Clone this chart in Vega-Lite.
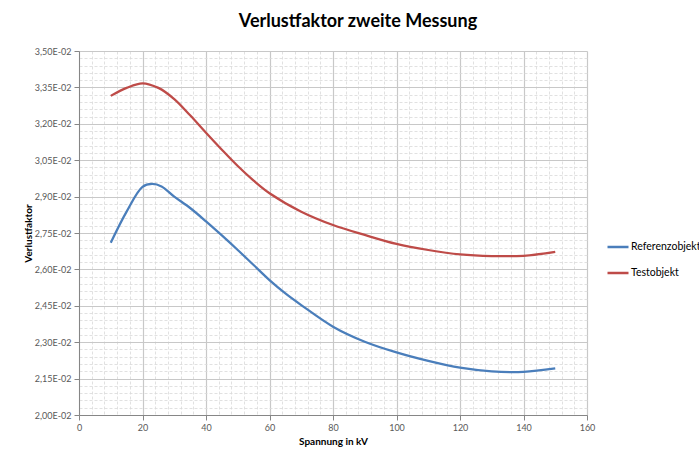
{
  "$schema": "https://vega.github.io/schema/vega-lite/v6.json",
  "width": 508,
  "height": 364,
  "autosize": {"type": "none"},
  "padding": {"left": 79, "top": 51, "right": 112, "bottom": 39},
  "background": "white",
  "title": {
    "text": "Verlustfaktor zweite Messung",
    "font": "Lato",
    "fontSize": 18,
    "fontWeight": "bold",
    "color": "#000000",
    "anchor": "middle",
    "dx": 25,
    "offset": 16
  },
  "data": {
    "values": [
      {"kV": 10, "wert": 0.03315, "serie": "Testobjekt"},
      {"kV": 15, "wert": 0.03348, "serie": "Testobjekt"},
      {"kV": 20, "wert": 0.03367, "serie": "Testobjekt"},
      {"kV": 25, "wert": 0.03348, "serie": "Testobjekt"},
      {"kV": 30, "wert": 0.03302, "serie": "Testobjekt"},
      {"kV": 35, "wert": 0.03235, "serie": "Testobjekt"},
      {"kV": 40, "wert": 0.03163, "serie": "Testobjekt"},
      {"kV": 45, "wert": 0.03093, "serie": "Testobjekt"},
      {"kV": 50, "wert": 0.03026, "serie": "Testobjekt"},
      {"kV": 55, "wert": 0.02966, "serie": "Testobjekt"},
      {"kV": 60, "wert": 0.02914, "serie": "Testobjekt"},
      {"kV": 70, "wert": 0.02838, "serie": "Testobjekt"},
      {"kV": 80, "wert": 0.02783, "serie": "Testobjekt"},
      {"kV": 90, "wert": 0.02742, "serie": "Testobjekt"},
      {"kV": 100, "wert": 0.02705, "serie": "Testobjekt"},
      {"kV": 110, "wert": 0.02680, "serie": "Testobjekt"},
      {"kV": 120, "wert": 0.02662, "serie": "Testobjekt"},
      {"kV": 130, "wert": 0.02655, "serie": "Testobjekt"},
      {"kV": 140, "wert": 0.02656, "serie": "Testobjekt"},
      {"kV": 150, "wert": 0.02672, "serie": "Testobjekt"},
      {"kV": 10, "wert": 0.02710, "serie": "Referenzobjekt"},
      {"kV": 15, "wert": 0.02838, "serie": "Referenzobjekt"},
      {"kV": 20, "wert": 0.02940, "serie": "Referenzobjekt"},
      {"kV": 23, "wert": 0.02952, "serie": "Referenzobjekt"},
      {"kV": 26, "wert": 0.02942, "serie": "Referenzobjekt"},
      {"kV": 30, "wert": 0.02900, "serie": "Referenzobjekt"},
      {"kV": 35, "wert": 0.02853, "serie": "Referenzobjekt"},
      {"kV": 40, "wert": 0.02798, "serie": "Referenzobjekt"},
      {"kV": 45, "wert": 0.02740, "serie": "Referenzobjekt"},
      {"kV": 50, "wert": 0.02680, "serie": "Referenzobjekt"},
      {"kV": 55, "wert": 0.02618, "serie": "Referenzobjekt"},
      {"kV": 60, "wert": 0.02556, "serie": "Referenzobjekt"},
      {"kV": 65, "wert": 0.02501, "serie": "Referenzobjekt"},
      {"kV": 70, "wert": 0.02453, "serie": "Referenzobjekt"},
      {"kV": 80, "wert": 0.02364, "serie": "Referenzobjekt"},
      {"kV": 90, "wert": 0.02302, "serie": "Referenzobjekt"},
      {"kV": 100, "wert": 0.02258, "serie": "Referenzobjekt"},
      {"kV": 110, "wert": 0.02223, "serie": "Referenzobjekt"},
      {"kV": 120, "wert": 0.02195, "serie": "Referenzobjekt"},
      {"kV": 130, "wert": 0.02180, "serie": "Referenzobjekt"},
      {"kV": 140, "wert": 0.02178, "serie": "Referenzobjekt"},
      {"kV": 150, "wert": 0.02192, "serie": "Referenzobjekt"}
    ]
  },
  "mark": {"type": "line", "interpolate": "catmull-rom", "strokeWidth": 2.25},
  "encoding": {
    "x": {
      "field": "kV",
      "type": "quantitative",
      "scale": {"domain": [0, 160], "nice": false, "zero": false},
      "axis": {
        "title": "Spannung in kV",
        "values": [0,4,8,12,16,20,24,28,32,36,40,44,48,52,56,60,64,68,72,76,80,84,88,92,96,100,104,108,112,116,120,124,128,132,136,140,144,148,152,156,160],
        "labelExpr": "datum.value % 20 == 0 ? datum.label : ''",
        "labelOverlap": false,
        "labelFlush": false,
        "gridColor": {"condition": {"test": "datum.value % 20 == 0", "value": "#c8c8c8"}, "value": "#d9d9d9"},
        "gridDash": {"condition": {"test": "datum.value % 20 == 0", "value": []}, "value": [3, 2]},
        "gridWidth": {"condition": {"test": "datum.value % 20 == 0", "value": 1.2}, "value": 0.8},
        "tickColor": {"condition": {"test": "datum.value % 20 == 0", "value": "#868686"}, "value": "transparent"}
      }
    },
    "y": {
      "field": "wert",
      "type": "quantitative",
      "scale": {"domain": [0.02, 0.035], "nice": false, "zero": false},
      "axis": {
        "title": "Verlustfaktor",
        "values": [0.02,0.0203,0.0206,0.0209,0.0212,0.0215,0.0218,0.0221,0.0224,0.0227,0.023,0.0233,0.0236,0.0239,0.0242,0.0245,0.0248,0.0251,0.0254,0.0257,0.026,0.0263,0.0266,0.0269,0.0272,0.0275,0.0278,0.0281,0.0284,0.0287,0.029,0.0293,0.0296,0.0299,0.0302,0.0305,0.0308,0.0311,0.0314,0.0317,0.032,0.0323,0.0326,0.0329,0.0332,0.0335,0.0338,0.0341,0.0344,0.0347,0.035],
        "labelExpr": "round((datum.value - 0.02) / 0.0003) % 5 == 0 ? replace(format(datum.value * 100, '.2f'), '.', ',') + 'E-02' : ''",
        "labelOverlap": false,
        "labelFlush": false,
        "gridColor": {"condition": {"test": "round((datum.value - 0.02) / 0.0003) % 5 == 0", "value": "#c8c8c8"}, "value": "#d9d9d9"},
        "gridDash": {"condition": {"test": "round((datum.value - 0.02) / 0.0003) % 5 == 0", "value": []}, "value": [3, 2]},
        "gridWidth": {"condition": {"test": "round((datum.value - 0.02) / 0.0003) % 5 == 0", "value": 1.2}, "value": 0.8},
        "tickColor": {"condition": {"test": "round((datum.value - 0.02) / 0.0003) % 5 == 0", "value": "#868686"}, "value": "transparent"}
      }
    },
    "color": {
      "field": "serie",
      "type": "nominal",
      "scale": {"domain": ["Referenzobjekt", "Testobjekt"], "range": ["#4A7EBB", "#BE4B48"]},
      "legend": {
        "title": null,
        "orient": "none",
        "legendX": 527,
        "legendY": 184,
        "symbolType": "stroke",
        "symbolSize": 441,
        "symbolStrokeWidth": 2.5,
        "labelFont": "Lato",
        "labelFontSize": 10.5,
        "labelColor": "#000000",
        "labelOffset": 1,
        "rowPadding": 8
      }
    }
  },
  "config": {
    "view": {"stroke": null},
    "axis": {
      "labelFont": "Lato",
      "labelFontSize": 9,
      "labelColor": "#595959",
      "titleFont": "Lato",
      "titleFontSize": 10,
      "titleFontWeight": "bold",
      "titleColor": "#000000",
      "domainColor": "#868686",
      "tickSize": 5,
      "labelPadding": 3
    },
    "axisY": {"titlePadding": 1},
    "axisX": {"titlePadding": 4}
  }
}
